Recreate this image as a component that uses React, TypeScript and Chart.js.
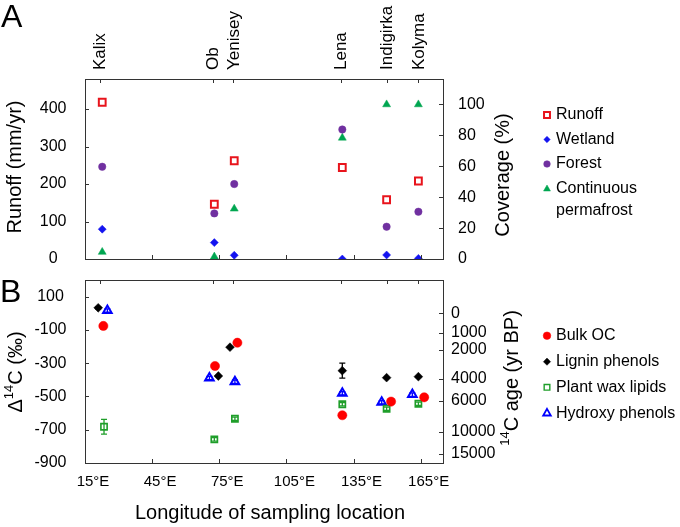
import React, { useEffect, useRef } from 'react';
import { Chart, registerables } from 'chart.js';
import { drawPoint } from 'chart.js/helpers';

Chart.register(...registerables);

const FONT = "'Liberation Sans', Arial, Helvetica, sans-serif";

// ---------- data ----------
const riverNames = ['Kalix', 'Ob', 'Yenisey', 'Lena', 'Indigirka', 'Kolyma'];
const riverTickLon = [21.7, 72.1, 81.3, 129.5, 149.8, 164];

// Panel A
const topLon = [22.7, 72.8, 81.7, 130, 149.8, 164];
const runoff = [418, 146, 262, 244, 158, 208];
const wetland = [19.3, 10.6, 2.4, 0, 2.6, 0.4];
const forest = [59.7, 29.5, 48.5, 83.8, 20.9, 30.6];
const permafrost = [4.5, 1.5, 32.5, 78.4, 100, 100];

// Panel B
const bulkLon = [23.2, 73.1, 83.1, 130, 151.8, 166.6];
const bulkD14C = [-76, -317, -177, -613, -531, -505];
const ligninLon = [20.9, 74.6, 79.8, 130, 149.8, 164];
const ligninD14C = [33, -377, -204, -345, -387, -381];
const ligninErr = [6, 0, 0, 45, 0, 0];
const waxLon = [23.5, 72.8, 82, 130, 149.8, 164];
const waxD14C = [-682, -758, -634, -547, -574, -544];
const waxErr = [44, 10, 10, 10, 10, 10];
const hydroxyLon = [25, 70.6, 82, 130, 147.6, 161.3];
const hydroxyD14C = [16, -389, -411, -481, -535, -489];
const hydroxyErr = [10, 10, 10, 10, 10, 10];

// Ticks
const lonTicks = [15, 45, 75, 105, 135, 165];
const runoffTicks = [0, 100, 200, 300, 400];
const coverageTicks = [0, 20, 40, 60, 80, 100];
const d14cTicks = [100, -100, -300, -500, -700, -900];
const ageTicks = [0, 1000, 2000, 4000, 6000, 10000, 15000];

// ---------- colours ----------
const C_RUNOFF = '#e8141c';
const C_WET = '#1414f0';
const C_FOREST = '#7030a0';
const C_PERM = '#00a651';
const C_BULK = '#ff0000';
const C_LIGNIN = '#000000';
const C_WAX = '#1f9e2a';
const C_HYDROXY = '#0000ff';
const AXIS = '#333333';

const pts = (xs: number[], ys: number[]) => xs.map((x, i) => ({ x, y: ys[i] }));
const ageToD14C = (age: number) => (Math.exp(-age / 8033) - 1) * 1000;

// ---------- plugins ----------
const innerTicks = {
  id: 'innerTicks',
  afterDraw(chart: any) {
    const ctx = chart.ctx;
    const a = chart.chartArea;
    const L = 4;
    ctx.save();
    ctx.strokeStyle = AXIS;
    ctx.lineWidth = 1;
    Object.keys(chart.scales).forEach((id) => {
      const s = chart.scales[id];
      const pos = s.options.position;
      s.ticks.forEach((t: any) => {
        const p = Math.round(s.getPixelForValue(t.value)) + 0.5;
        ctx.beginPath();
        if (pos === 'left') { ctx.moveTo(a.left, p); ctx.lineTo(a.left + L, p); }
        else if (pos === 'right') { ctx.moveTo(a.right, p); ctx.lineTo(a.right - L, p); }
        else if (pos === 'top') { ctx.moveTo(p, a.top); ctx.lineTo(p, a.top + L); }
        else { ctx.moveTo(p, a.bottom); ctx.lineTo(p, a.bottom - L); }
        ctx.stroke();
      });
    });
    ctx.restore();
  },
};

const errorBars = {
  id: 'errorBars',
  afterDatasetsDraw(chart: any) {
    const ctx = chart.ctx;
    ctx.save();
    chart.data.datasets.forEach((ds: any) => {
      if (!ds.errors) return;
      const xs = chart.scales[ds.xAxisID || 'x'];
      const ys = chart.scales[ds.yAxisID || 'y'];
      ctx.strokeStyle = ds.borderColor;
      ctx.lineWidth = 1.3;
      ds.data.forEach((d: any, i: number) => {
        const e = ds.errors[i];
        if (!e) return;
        const x = xs.getPixelForValue(d.x);
        const y1 = ys.getPixelForValue(d.y - e);
        const y2 = ys.getPixelForValue(d.y + e);
        ctx.beginPath();
        ctx.moveTo(x, y1); ctx.lineTo(x, y2);
        ctx.moveTo(x - 3, y1); ctx.lineTo(x + 3, y1);
        ctx.moveTo(x - 3, y2); ctx.lineTo(x + 3, y2);
        ctx.stroke();
      });
    });
    ctx.restore();
  },
};

type LegendItem = { text: string[]; style: string; color: string; fill: string; radius: number; bw: number; y: number };
type RotTitle = { parts: { t: string; sup?: boolean }[]; x: number; y: number };

function makeDecor(letter: { t: string; x: number; y: number }, titles: RotTitle[], legend: LegendItem[], xTitle?: { t: string; x: number; y: number }) {
  return {
    id: 'decor',
    afterDraw(chart: any) {
      const ctx = chart.ctx;
      ctx.save();
      ctx.fillStyle = '#000';
      ctx.textBaseline = 'alphabetic';
      ctx.textAlign = 'left';
      ctx.font = `32px ${FONT}`;
      ctx.fillText(letter.t, letter.x, letter.y);

      titles.forEach((tt) => {
        ctx.save();
        ctx.translate(tt.x, tt.y);
        ctx.rotate(-Math.PI / 2);
        const big = `20px ${FONT}`;
        const small = `13px ${FONT}`;
        let total = 0;
        tt.parts.forEach((p) => { ctx.font = p.sup ? small : big; total += ctx.measureText(p.t).width; });
        let cx = -total / 2;
        ctx.textAlign = 'left';
        ctx.textBaseline = 'middle';
        tt.parts.forEach((p) => {
          ctx.font = p.sup ? small : big;
          ctx.fillText(p.t, cx, p.sup ? -7 : 0);
          cx += ctx.measureText(p.t).width;
        });
        ctx.restore();
      });

      if (xTitle) {
        ctx.font = `20px ${FONT}`;
        ctx.textAlign = 'center';
        ctx.textBaseline = 'middle';
        ctx.fillText(xTitle.t, xTitle.x, xTitle.y);
      }

      legend.forEach((it) => {
        ctx.fillStyle = it.fill;
        ctx.strokeStyle = it.color;
        ctx.lineWidth = it.bw;
        drawPoint(ctx, { pointStyle: it.style as any, rotation: 0, radius: it.radius, borderWidth: it.bw }, 547, it.y);
        ctx.fillStyle = '#000';
        ctx.font = `16px ${FONT}`;
        ctx.textAlign = 'left';
        ctx.textBaseline = 'middle';
        it.text.forEach((line, k) => ctx.fillText(line, 556, it.y + k * 22));
      });
      ctx.restore();
    },
  };
}

const baseTickFont = { family: FONT, size: 16 };

function fixedTicks(values: number[]) {
  return (s: any) => { s.ticks = values.map((v) => ({ value: v })); };
}

function fitSize(w: number | null, h: number | null) {
  return (s: any) => {
    if (w !== null) s.width = w;
    if (h !== null) s.height = h;
    s.paddingTop = 0; s.paddingBottom = 0; s.paddingLeft = 0; s.paddingRight = 0;
  };
}

function TopChart() {
  const ref = useRef<HTMLCanvasElement>(null);
  useEffect(() => {
    const chart = new Chart(ref.current!, {
      type: 'scatter',
      data: {
        datasets: [
          { label: 'Runoff', data: pts(topLon, runoff), yAxisID: 'y', pointStyle: 'rect', pointRadius: 4.8, pointBorderWidth: 2, borderColor: C_RUNOFF, backgroundColor: 'rgba(255,255,255,0)' } as any,
          { label: 'Wetland', data: pts(topLon, wetland), yAxisID: 'y2', pointStyle: 'rectRot', pointRadius: 4, pointBorderWidth: 0.5, borderColor: C_WET, backgroundColor: C_WET },
          { label: 'Forest', data: pts(topLon, forest), yAxisID: 'y2', pointStyle: 'circle', pointRadius: 3.7, pointBorderWidth: 0.5, borderColor: C_FOREST, backgroundColor: C_FOREST },
          { label: 'Continuous permafrost', data: pts(topLon, permafrost), yAxisID: 'y2', pointStyle: 'triangle', pointRadius: 4.6, pointBorderWidth: 0.5, borderColor: C_PERM, backgroundColor: C_PERM },
        ],
      },
      options: {
        animation: false,
        responsive: false,
        devicePixelRatio: 1,
        layout: { padding: 0, autoPadding: false },
        plugins: { legend: { display: false }, tooltip: { enabled: false }, title: { display: false } },
        scales: {
          x: {
            type: 'linear', position: 'bottom', min: 15, max: 175,
            afterBuildTicks: fixedTicks(lonTicks),
            ticks: { display: false },
            grid: { display: false, drawTicks: false },
            border: { display: true, color: AXIS, width: 1 },
            afterFit: fitSize(null, 11),
          },
          xTop: {
            type: 'linear', position: 'top', min: 15, max: 175,
            afterBuildTicks: fixedTicks(riverTickLon),
            ticks: {
              display: true, autoSkip: false, minRotation: 90, maxRotation: 90, padding: 9, labelOffset: 21,
              color: '#000', font: { family: FONT, size: 17 },
              callback: (_v: any, i: number) => riverNames[i],
            },
            grid: { display: false, drawTicks: false },
            border: { display: true, color: AXIS, width: 1 },
            afterFit: fitSize(null, 79),
          },
          y: {
            type: 'linear', position: 'left', min: 0, max: 480,
            afterBuildTicks: fixedTicks(runoffTicks),
            ticks: { padding: 18.5, crossAlign: 'center', color: '#000', font: baseTickFont },
            grid: { display: false, drawTicks: false },
            border: { display: true, color: AXIS, width: 1 },
            afterFit: fitSize(85, null),
          },
          y2: {
            type: 'linear', position: 'right', min: 0, max: 116.5,
            afterBuildTicks: fixedTicks(coverageTicks),
            ticks: { padding: 15, color: '#000', font: baseTickFont },
            grid: { display: false, drawTicks: false },
            border: { display: true, color: AXIS, width: 1 },
            afterFit: fitSize(237, null),
          },
        },
      } as any,
      plugins: [
        innerTicks,
        makeDecor(
          { t: 'A', x: 1, y: 27 },
          [
            { parts: [{ t: 'Runoff (mm/yr)' }], x: 15, y: 167 },
            { parts: [{ t: 'Coverage (%)' }], x: 503, y: 175 },
          ],
          [
            { text: ['Runoff'], style: 'rect', color: C_RUNOFF, fill: '#fff', radius: 4.2, bw: 2, y: 115 },
            { text: ['Wetland'], style: 'rectRot', color: C_WET, fill: C_WET, radius: 3.2, bw: 0.5, y: 139.5 },
            { text: ['Forest'], style: 'circle', color: C_FOREST, fill: C_FOREST, radius: 3.3, bw: 0.5, y: 164 },
            { text: ['Continuous', 'permafrost'], style: 'triangle', color: C_PERM, fill: C_PERM, radius: 4, bw: 0.5, y: 189 },
          ],
        ),
      ],
    });
    return () => chart.destroy();
  }, []);
  return <canvas ref={ref} width={680} height={270} style={{ position: 'absolute', left: 0, top: 0, width: 680, height: 270 }} />;
}

function BottomChart() {
  const ref = useRef<HTMLCanvasElement>(null);
  useEffect(() => {
    const chart = new Chart(ref.current!, {
      type: 'scatter',
      data: {
        datasets: [
          { label: 'Bulk OC', data: pts(bulkLon, bulkD14C), pointStyle: 'circle', pointRadius: 4.6, pointBorderWidth: 0.5, borderColor: C_BULK, backgroundColor: C_BULK },
          { label: 'Lignin phenols', data: pts(ligninLon, ligninD14C), errors: ligninErr, pointStyle: 'rectRot', pointRadius: 4.4, pointBorderWidth: 0.5, borderColor: C_LIGNIN, backgroundColor: C_LIGNIN } as any,
          { label: 'Plant wax lipids', data: pts(waxLon, waxD14C), errors: waxErr, pointStyle: 'rect', pointRadius: 4.4, pointBorderWidth: 1.6, borderColor: C_WAX, backgroundColor: 'rgba(255,255,255,0)' } as any,
          { label: 'Hydroxy phenols', data: pts(hydroxyLon, hydroxyD14C), errors: hydroxyErr, pointStyle: 'triangle', pointRadius: 5, pointBorderWidth: 2, borderColor: C_HYDROXY, backgroundColor: 'rgba(255,255,255,0)' } as any,
        ],
      },
      options: {
        animation: false,
        responsive: false,
        devicePixelRatio: 1,
        layout: { padding: 0, autoPadding: false },
        plugins: { legend: { display: false }, tooltip: { enabled: false }, title: { display: false } },
        scales: {
          x: {
            type: 'linear', position: 'bottom', min: 15, max: 175,
            afterBuildTicks: fixedTicks(lonTicks),
            ticks: {
              padding: 10, labelOffset: 8, maxRotation: 0, minRotation: 0, autoSkip: false,
              color: '#000', font: { family: FONT, size: 15 },
              callback: (v: any) => `${v}°E`,
            },
            grid: { display: false, drawTicks: false },
            border: { display: true, color: AXIS, width: 1 },
            afterFit: fitSize(null, 64),
          },
          xTop: {
            type: 'linear', position: 'top', min: 15, max: 175,
            afterBuildTicks: fixedTicks(riverTickLon),
            ticks: { display: false },
            grid: { display: false, drawTicks: false },
            border: { display: true, color: AXIS, width: 1 },
            afterFit: fitSize(null, 10),
          },
          y: {
            type: 'linear', position: 'left', min: -900, max: 200,
            afterBuildTicks: fixedTicks(d14cTicks),
            ticks: { padding: 18.5, crossAlign: 'center', color: '#000', font: baseTickFont },
            grid: { display: false, drawTicks: false },
            border: { display: true, color: AXIS, width: 1 },
            afterFit: fitSize(85, null),
          },
          y2: {
            type: 'linear', position: 'right', min: -900, max: 200,
            afterBuildTicks: fixedTicks(ageTicks.map(ageToD14C)),
            ticks: {
              padding: 8, color: '#000', font: baseTickFont,
              callback: (_v: any, i: number) => String(ageTicks[i]),
            },
            grid: { display: false, drawTicks: false },
            border: { display: true, color: AXIS, width: 1 },
            afterFit: fitSize(237, null),
          },
        },
      } as any,
      plugins: [
        innerTicks,
        errorBars,
        makeDecor(
          { t: 'B', x: 0, y: 32 },
          [
            { parts: [{ t: 'Δ' }, { t: '14', sup: true }, { t: 'C (‰)' }], x: 16, y: 102 },
            { parts: [{ t: '14', sup: true }, { t: 'C age (yr BP)' }], x: 512, y: 108 },
          ],
          [
            { text: ['Bulk OC'], style: 'circle', color: C_BULK, fill: C_BULK, radius: 3.8, bw: 0.5, y: 65.7 },
            { text: ['Lignin phenols'], style: 'rectRot', color: C_LIGNIN, fill: C_LIGNIN, radius: 3.6, bw: 0.5, y: 91.7 },
            { text: ['Plant wax lipids'], style: 'rect', color: C_WAX, fill: '#fff', radius: 4, bw: 1.4, y: 117.3 },
            { text: ['Hydroxy phenols'], style: 'triangle', color: C_HYDROXY, fill: '#fff', radius: 4.4, bw: 1.8, y: 143.3 },
          ],
          { t: 'Longitude of sampling location', x: 270, y: 243 },
        ),
      ],
    });
    return () => chart.destroy();
  }, []);
  return <canvas ref={ref} width={680} height={257} style={{ position: 'absolute', left: 0, top: 270, width: 680, height: 257 }} />;
}

export default function App() {
  return (
    <div style={{ position: 'absolute', left: 0, top: 0, width: 680, height: 527, background: '#fff', overflow: 'hidden' }}>
      <TopChart />
      <BottomChart />
    </div>
  );
}
